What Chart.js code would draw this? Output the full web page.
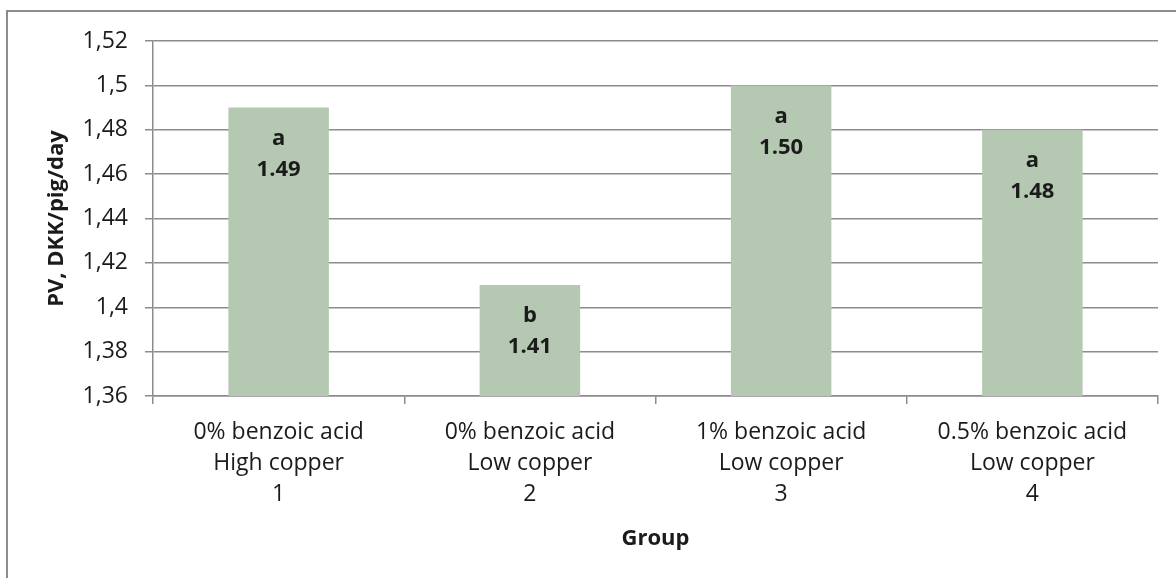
<!DOCTYPE html>
<html>
<head>
<meta charset="utf-8">
<script src="https://cdn.jsdelivr.net/npm/chart.js@4.4.1/dist/chart.umd.min.js"></script>
<style>
    html, body { margin: 0; padding: 0; background: #fff; overflow: hidden; }
    #wrap { position: relative; width: 1176px; height: 578px; }
    #frame { position: absolute; left: 6px; top: 10px; width: 1200px; height: 600px; border: 2px solid #8c8c8c; }
    canvas { position: absolute; left: 0; top: 0; }
</style>
</head>
<body>
<div id="wrap">
    <div id="frame"></div>
    <canvas id="chart" width="1176" height="578"></canvas>
</div>
<script>
// ================= DATA =================
const groups = [
    ["0% benzoic acid", "High copper", "1"],
    ["0% benzoic acid", "Low copper", "2"],
    ["1% benzoic acid", "Low copper", "3"],
    ["0.5% benzoic acid", "Low copper", "4"]
];
const pvValues = [1.49, 1.41, 1.50, 1.48];
const letters = ["a", "b", "a", "a"];
const yTicks = [1.36, 1.38, 1.40, 1.42, 1.44, 1.46, 1.48, 1.50, 1.52];

const FONT = "'Open Sans', sans-serif";
const TEXT = "#1b1b1b";
const GRID = "#8c8c8c";

// letters + values inside the bars
const barLabels = {
    id: "barLabels",
    afterDatasetsDraw(chart) {
        const ctx = chart.ctx;
        const meta = chart.getDatasetMeta(0);
        ctx.save();
        ctx.fillStyle = TEXT;
        ctx.font = "bold 22px " + FONT;
        ctx.textAlign = "center";
        ctx.textBaseline = "middle";
        meta.data.forEach((bar, i) => {
            ctx.fillText(letters[i], bar.x, bar.y + 31);
            ctx.fillText(pvValues[i].toFixed(2), bar.x, bar.y + 62);
        });
        ctx.restore();
    }
};

new Chart(document.getElementById("chart"), {
    type: "bar",
    data: {
        labels: groups,
        datasets: [{
            data: pvValues,
            backgroundColor: "#b4c8b2",
            borderWidth: 0,
            barPercentage: 0.4,
            categoryPercentage: 1
        }]
    },
    options: {
        responsive: false,
        animation: false,
        layout: { padding: { left: 38, top: 41, right: 18, bottom: 20 } },
        plugins: { legend: { display: false }, tooltip: { enabled: false } },
        scales: {
            x: {
                afterFit(scale) { scale.height = 162; },
                grid: { offset: true, drawOnChartArea: false, color: GRID, lineWidth: 1.5, tickLength: 8 },
                border: { color: GRID, width: 1.5 },
                ticks: { color: TEXT, font: { family: FONT, size: 23, lineHeight: 1.35 }, padding: 13, maxRotation: 0 },
                title: { display: true, text: "Group", color: TEXT, font: { family: FONT, size: 22, weight: "bold", lineHeight: 1.2 }, padding: { top: 0, bottom: 6 } }
            },
            y: {
                min: 1.36,
                max: 1.52,
                afterFit(scale) { scale.width = 153 - 38; },
                afterBuildTicks(scale) { scale.ticks = yTicks.map(v => ({ value: v })); },
                grid: { color: GRID, lineWidth: 1.5, tickLength: 8 },
                border: { color: GRID, width: 1.5 },
                ticks: {
                    color: TEXT,
                    font: { family: FONT, size: 23 },
                    padding: 17,
                    callback: v => String(Number(v.toFixed(2))).replace(".", ",")
                },
                title: { display: true, text: "PV, DKK/pig/day", color: TEXT, font: { family: FONT, size: 22, weight: "bold", lineHeight: 1.2 }, padding: { top: 6, bottom: 0 } }
            }
        }
    },
    plugins: [barLabels]
});
</script>
</body>
</html>
